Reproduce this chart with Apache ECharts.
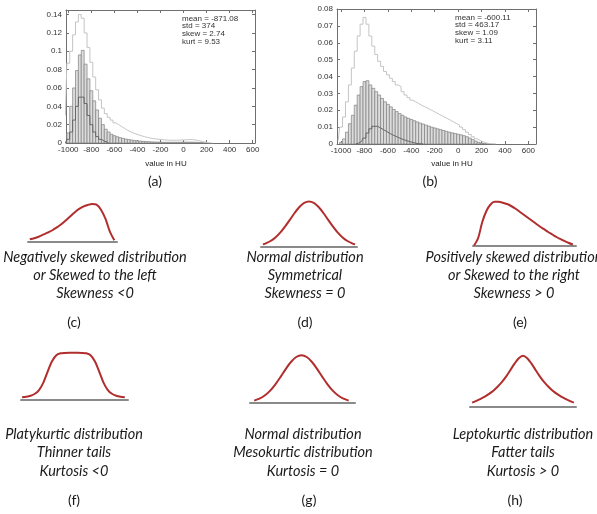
<!DOCTYPE html>
<html>
<head>
<meta charset="utf-8">
<script src="https://cdn.jsdelivr.net/npm/echarts@6/dist/echarts.min.js"></script>
<style>
  html, body { margin: 0; padding: 0; background: #fff; }
  #main { width: 597px; height: 514px; }
</style>
</head>
<body>
<div id="main"></div>
<script>
// histogram bins (HU), 25 HU wide
var binCenters = [
  -1025, -1000, -975, -950, -925, -900, -875, -850, -825, -800,
  -775, -750, -725, -700, -675, -650, -625, -600, -575, -550,
  -525, -500, -475, -450, -425, -400, -375, -350, -325, -300,
  -275, -250, -225, -200, -175, -150, -125, -100, -75, -50,
  -25, 0, 25, 50, 75, 100, 125, 150, 175, 200,
  225, 250, 275, 300, 325, 350, 375, 400
];
var binWidth = 25;

// (a)
var histA_all = [
  0.030, 0.087, 0.100, 0.118, 0.132, 0.140, 0.136, 0.120, 0.104, 0.088,
  0.072, 0.058, 0.047, 0.038, 0.032, 0.028, 0.025, 0.022, 0.020, 0.018,
  0.016, 0.014, 0.0125, 0.011, 0.0098, 0.0088, 0.0078, 0.0069, 0.0061, 0.0054,
  0.0048, 0.0044, 0.0040, 0.0037, 0.0034, 0.0032, 0.0030, 0.0030, 0.0030, 0.0031,
  0.0032, 0.0034, 0.0036, 0.0037, 0.0036, 0.0031, 0.0024, 0.0016, 0.0009, 0.0004,
  0.0001, 0, 0, 0, 0, 0, 0, 0
];
var histA_bars = [
  0, 0.011, 0.040, 0.060, 0.079, 0.096, 0.101, 0.086, 0.070, 0.057,
  0.046, 0.036, 0.027, 0.020, 0.015, 0.012, 0.0095, 0.0080, 0.0068, 0.0058,
  0.0050, 0.0043, 0.0037, 0.0032, 0.0028, 0.0024, 0.0021, 0.0018, 0.0016, 0.0014,
  0.0012, 0.0011, 0.0010, 0.0009, 0.0008, 0.0008, 0.0008, 0.0008, 0.0008, 0.0008,
  0.0008, 0.0008, 0.0009, 0.0009, 0.0009, 0.0008, 0.0006, 0.0004, 0.0002, 0.0001,
  0, 0, 0, 0, 0, 0, 0, 0
];
var histA_dark = [
  0, 0.004, 0.012, 0.025, 0.040, 0.050, 0.050, 0.043, 0.030, 0.020,
  0.012, 0.007, 0.004, 0.002, 0.001, 0, 0, 0, 0, 0,
  0, 0, 0, 0, 0, 0, 0, 0, 0, 0,
  0, 0, 0, 0, 0, 0, 0, 0, 0, 0,
  0, 0, 0, 0, 0, 0, 0, 0, 0, 0,
  0, 0, 0, 0, 0, 0, 0, 0
];
var statsA = ['mean = -871.08', 'std = 374', 'skew = 2.74', 'kurt = 9.53'];

// (b)
var histB_all = [
  0.002, 0.010, 0.016, 0.025, 0.035, 0.045, 0.055, 0.064, 0.071, 0.075,
  0.071, 0.064, 0.058, 0.053, 0.049, 0.046, 0.043, 0.041, 0.039, 0.037,
  0.035, 0.034, 0.031, 0.029, 0.0275, 0.026, 0.025, 0.024, 0.023, 0.0222,
  0.0213, 0.0204, 0.0195, 0.0186, 0.0176, 0.0167, 0.0158, 0.0149, 0.0140, 0.0130,
  0.0121, 0.0112, 0.0100, 0.0085, 0.0070, 0.0056, 0.0043, 0.0031, 0.0021, 0.0013,
  0.0007, 0.0003, 0.0002, 0.0001, 0, 0, 0, 0
];
var histB_bars = [
  0, 0.001, 0.003, 0.007, 0.012, 0.017, 0.023, 0.029, 0.034, 0.037,
  0.0375, 0.035, 0.033, 0.031, 0.029, 0.027, 0.025, 0.0235, 0.022, 0.0205,
  0.0192, 0.018, 0.017, 0.016, 0.0152, 0.0145, 0.0138, 0.0131, 0.0124, 0.0118,
  0.0112, 0.0106, 0.0100, 0.0095, 0.0090, 0.0085, 0.0080, 0.0075, 0.0070, 0.0066,
  0.0062, 0.0058, 0.0054, 0.0049, 0.0043, 0.0035, 0.0026, 0.0017, 0.0010, 0.0005,
  0.0002, 0.0001, 0, 0, 0, 0, 0, 0
];
var histB_dark = [
  0, 0, 0, 0, 0, 0, 0, 0.0005, 0.0015, 0.0035,
  0.0065, 0.009, 0.0105, 0.0105, 0.0095, 0.0085, 0.0075, 0.0065, 0.0055, 0.0047,
  0.0039, 0.0032, 0.0025, 0.0019, 0.0014, 0.0009, 0.0005, 0.0002, 0.0001, 0,
  0, 0, 0, 0, 0, 0, 0, 0, 0, 0,
  0, 0, 0, 0, 0, 0, 0, 0, 0, 0,
  0, 0, 0, 0, 0, 0, 0, 0
];
var statsB = ['mean = -600.11', 'std = 463.17', 'skew = 1.09', 'kurt = 3.11'];

// sketch curves: x in % of baseline length, height in px above baseline
var skewLeftX = [2, 7, 12, 17, 22, 27, 32, 37, 42, 47, 52, 57, 62, 67, 72, 77, 82, 87, 92, 97];
var skewLeftY = [2.4, 3.5, 5, 7, 9, 11.2, 14, 17.2, 21, 25, 29, 32.5, 35, 36.7, 37.7, 37, 32, 23, 10, 1.5];
var normalSkewX = [2, 5, 10, 15, 20, 25, 30, 35, 40, 45, 50, 55, 60, 65, 70, 75, 80, 85, 90, 95, 98];
var normalSkewY = [2.1, 3.1, 5.5, 9, 13.8, 19.8, 26.6, 33.5, 39.5, 43.6, 45, 43.6, 39.5, 33.5, 26.6, 19.8, 13.8, 9, 5.5, 3.1, 2.1];
var skewRightX = [1, 5, 9, 13, 17, 21, 25, 29, 33, 37, 41, 45, 49, 53, 57, 61, 65, 69, 73, 77, 81, 85, 89, 93, 97];
var skewRightY = [0.5, 8, 24, 35, 41.5, 44.2, 44.2, 43.3, 42, 40, 37.5, 34.5, 31.5, 28.5, 25.5, 22.5, 19.5, 16.8, 14, 11.5, 9, 6.8, 4.8, 3, 1.5];
var platyX = [1, 5, 9, 13, 17, 21, 25, 29, 33, 37, 41, 45, 49, 53, 57, 61, 65, 69, 73, 77, 81, 85, 89, 93, 97];
var platyY = [2, 2.5, 3.5, 5.5, 9.5, 17, 28, 38, 44, 46, 46.4, 46.5, 46.5, 46.5, 46.4, 46, 44, 38, 28, 17, 9.5, 5.5, 3.5, 2.5, 2];
var mesoX = [4, 9, 14, 19, 24, 29, 34, 39, 44, 49, 54, 59, 64, 69, 74, 79, 84, 89, 94];
var mesoY = [2.1, 4, 7.2, 11.8, 18.1, 25.6, 33.6, 40.7, 45.7, 47.5, 45.7, 40.7, 33.6, 25.6, 18.1, 11.8, 7.2, 4, 2.1];
var leptoX = [2, 6, 10, 14, 18, 22, 26, 30, 34, 38, 42, 46, 50, 54, 58, 62, 66, 70, 74, 78, 82, 86, 90, 94, 98];
var leptoY = [4, 5.8, 7.8, 10, 12.8, 16, 20, 24.5, 30, 36.5, 43, 48.5, 51, 48.5, 43, 36.5, 30, 24.5, 20, 16, 12.8, 10, 7.8, 5.8, 4];

var captionC = ['Negatively skewed distribution', 'or Skewed to the left', 'Skewness <0'];
var captionD = ['Normal distribution', 'Symmetrical', 'Skewness = 0'];
var captionE = ['Positively skewed distribution', 'or Skewed to the right', 'Skewness > 0'];
var captionF = ['Platykurtic distribution', 'Thinner tails', 'Kurtosis <0'];
var captionG = ['Normal distribution', 'Mesokurtic distribution', 'Kurtosis = 0'];
var captionH = ['Leptokurtic distribution', 'Fatter tails', 'Kurtosis > 0'];

var frameColor = '#707070';
var curveColor = '#b12e2e';
var baseColor = '#8a8a8a';

function pairs(xs, ys) {
    return xs.map(function (x, i) { return [x, ys[i]]; });
}

// drop long zero runs at both ends, keep one zero as the step foot
function trimZeros(xs, ys) {
    var first = 0, last = ys.length - 1;
    while (first < ys.length && !(ys[first] > 0)) first++;
    while (last > 0 && !(ys[last] > 0)) last--;
    var a = Math.max(first - 1, 0), b = Math.min(last + 1, ys.length - 1);
    return pairs(xs.slice(a, b + 1), ys.slice(a, b + 1));
}

var grids = [], xAxes = [], yAxes = [], series = [], graphics = [];

function histPanel(box, xMin, xMax, yMax, yInterval, all, bars, dark, stats, statsX, statsY) {
    var g = grids.length;
    grids.push({left: box[0], top: box[1], width: box[2], height: box[3], outerBoundsMode: 'none'});
    var line = {show: true, onZero: false, lineStyle: {color: frameColor, width: 1}};
    var tick = {show: true, inside: true, length: 3, lineStyle: {color: frameColor, width: 1}};
    var xi = xAxes.length, yi = yAxes.length;
    xAxes.push({
        type: 'value', gridIndex: g, min: xMin, max: xMax, splitNumber: 8,
        axisLine: line, axisTick: tick, splitLine: {show: false},
        axisLabel: {
            fontSize: 8, color: '#333', margin: 3, fontFamily: 'Liberation Sans',
            showMinLabel: false, showMaxLabel: false,
            formatter: function (v) { return Math.abs(v % 200) < 1e-6 ? String(v) : ''; }
        }
    });
    xAxes.push({
        type: 'value', gridIndex: g, position: 'top', min: xMin, max: xMax, splitNumber: 8,
        axisLine: line, axisTick: tick, splitLine: {show: false}, axisLabel: {show: false}
    });
    var yLabel = function (v) {
        var k = v / yInterval;
        return Math.abs(k - Math.round(k)) < 1e-6 ? String(+v.toFixed(3)) : '';
    };
    yAxes.push({
        type: 'value', gridIndex: g, min: 0, max: yMax, interval: yInterval,
        axisLine: line, axisTick: tick, splitLine: {show: false},
        axisLabel: {fontSize: 8, color: '#333', margin: 4, fontFamily: 'Liberation Sans', formatter: yLabel}
    });
    yAxes.push({
        type: 'value', gridIndex: g, position: 'right', min: 0, max: yMax, interval: yInterval,
        axisLine: line, axisTick: tick, splitLine: {show: false}, axisLabel: {show: false}
    });

    series.push({
        type: 'custom', xAxisIndex: xi, yAxisIndex: yi, clip: true, silent: true,
        data: pairs(binCenters, bars),
        renderItem: function (params, api) {
            var x = api.value(0), y = api.value(1);
            if (!(y > 0)) return null;
            var p0 = api.coord([x - binWidth / 2, y]);
            var p1 = api.coord([x + binWidth / 2, 0]);
            return {
                type: 'rect',
                shape: {x: p0[0], y: p0[1], width: p1[0] - p0[0], height: p1[1] - p0[1]},
                style: {fill: '#dcdcdc', stroke: '#808080', lineWidth: 0.7}
            };
        }
    });
    series.push({
        type: 'line', xAxisIndex: xi, yAxisIndex: yi, step: 'middle', showSymbol: false, silent: true,
        data: trimZeros(binCenters, all),
        lineStyle: {color: '#c4c4c4', width: 1}
    });
    series.push({
        type: 'line', xAxisIndex: xi, yAxisIndex: yi, step: 'middle', showSymbol: false, silent: true,
        data: trimZeros(binCenters, dark),
        lineStyle: {color: '#666666', width: 1}
    });
    stats.forEach(function (s, i) {
        graphics.push({
            type: 'text', x: statsX, y: statsY + i * 7.7, silent: true,
            style: {text: s, font: '8px "Liberation Sans"', fill: '#333', align: 'left', verticalAlign: 'middle'}
        });
    });
}

function curvePanel(left, width, baseline, height, xs, ys) {
    var g = grids.length;
    grids.push({left: left, top: baseline - height, width: width, height: height, outerBoundsMode: 'none'});
    var xi = xAxes.length, yi = yAxes.length;
    xAxes.push({
        type: 'value', gridIndex: g, min: 0, max: 100,
        axisLine: {show: true, onZero: false, lineStyle: {color: baseColor, width: 2}},
        axisTick: {show: false}, axisLabel: {show: false}, splitLine: {show: false}
    });
    yAxes.push({type: 'value', gridIndex: g, min: 0, max: height, show: false});
    series.push({
        type: 'line', xAxisIndex: xi, yAxisIndex: yi, smooth: 0.3, showSymbol: false, silent: true,
        data: pairs(xs, ys),
        lineStyle: {color: curveColor, width: 2}
    });
}

function caption(lines, cx, y0, step) {
    lines.forEach(function (t, i) {
        graphics.push({
            type: 'text', x: cx, y: y0 + i * step, silent: true,
            style: {text: t, font: 'italic 14.5px Lato', fill: '#1a1a1a', align: 'center', verticalAlign: 'middle'}
        });
    });
}

function label(t, cx, cy, font) {
    graphics.push({
        type: 'text', x: cx, y: cy, silent: true,
        style: {text: t, font: font || '14px Lato', fill: '#1a1a1a', align: 'center', verticalAlign: 'middle'}
    });
}

histPanel([66, 10, 189, 133], -1020, 620, 0.145, 0.02, histA_all, histA_bars, histA_dark, statsA, 182, 18.5);
histPanel([337, 9, 199, 135], -1035, 665, 0.08, 0.01, histB_all, histB_bars, histB_dark, statsB, 455, 17.5);
label('value in HU', 166, 163.5, '8px "Liberation Sans"');
label('value in HU', 452, 163.5, '8px "Liberation Sans"');
label('(a)', 155, 181);
label('(b)', 430, 181);

curvePanel(28, 89, 241.7, 40, skewLeftX, skewLeftY);
curvePanel(261, 96, 246.5, 46, normalSkewX, normalSkewY);
curvePanel(473, 103, 246, 46, skewRightX, skewRightY);
curvePanel(21, 107, 399.3, 48, platyX, platyY);
curvePanel(250, 105, 402.7, 49, mesoX, mesoY);
curvePanel(470, 106, 406.7, 53, leptoX, leptoY);

caption(captionC, 95, 257, 18.3);
caption(captionD, 305, 257, 18.3);
caption(captionE, 514, 257, 18.3);
caption(captionF, 74, 434.5, 18.2);
caption(captionG, 303, 434.5, 18.2);
caption(captionH, 523, 434.5, 18.2);
label('(c)', 74, 322);
label('(d)', 305, 322);
label('(e)', 520, 322);
label('(f)', 74, 500);
label('(g)', 309, 500);
label('(h)', 515, 500);

var chart = echarts.init(document.getElementById('main'), null, {renderer: 'canvas'});
chart.setOption({
    backgroundColor: '#ffffff',
    animation: false,
    grid: grids,
    xAxis: xAxes,
    yAxis: yAxes,
    series: series,
    graphic: {elements: graphics}
});
</script>
</body>
</html>
